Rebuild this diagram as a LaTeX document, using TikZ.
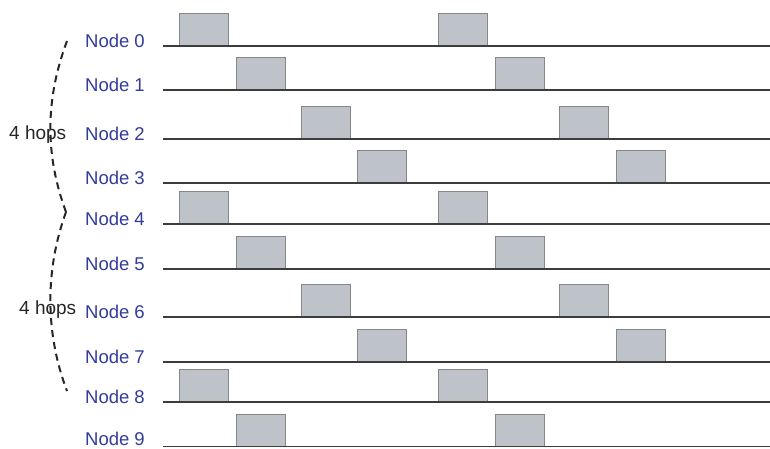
\documentclass[tikz,border=0pt]{standalone}
\usepackage{fontspec}
\setmainfont{Liberation Sans}
\definecolor{lbl}{RGB}{50,60,155}
\definecolor{slotfill}{RGB}{190,195,201}
\definecolor{slotdraw}{RGB}{135,135,135}
\definecolor{axis}{RGB}{60,60,60}
\begin{document}
\begin{tikzpicture}[x=1pt,y=-1pt,
  nodelbl/.style={text=lbl,font=\fontsize{18.5}{21}\selectfont,inner sep=0pt,anchor=base east},
  hopslbl/.style={text=black!85,font=\fontsize{19}{21}\selectfont,inner sep=0pt,anchor=base west},
  timeline/.style={draw=axis,line width=1.3pt},
  slot/.style={draw=slotdraw,fill=slotfill,line width=0.9pt,minimum width=49pt,minimum height=32pt,inner sep=0pt,anchor=south west},
  hopbrace/.style={draw=black!85,line width=2pt,dash pattern=on 7pt off 5pt}]
\useasboundingbox (0,0) rectangle (770,448);
% timelines and labels
\foreach \i/\y/\t/\a/\b in {0/46/47.5/179/438,1/90/91.5/236/495,2/139/140.5/301/559,3/183/184.5/357/616,4/224/225.5/179/438,5/269/270.5/236/495,6/317/318.5/301/559,7/362/363.5/357/616,8/402/403.5/179/438,9/446.5/445/236/495}{
  \coordinate (s\i) at (163,\y);
  \coordinate (e\i) at (770,\y);
  \node[slot] (a\i) at (\a,\y) {};
  \node[slot] (b\i) at (\b,\y) {};
  \draw[timeline] (s\i) -- (e\i);
  \node[nodelbl] (n\i) at (145,\t) {Node \i};
}
% braces
\coordinate (h0) at (67,41);
\coordinate (h1) at (66,212);
\coordinate (h2) at (67,391);
\draw[hopbrace] (h0) .. controls (45,100) and (45,155) .. (h1);
\draw[hopbrace] (h1) .. controls (45,270) and (45,333) .. (h2);
\node[hopslbl] (hop1) at (9,139) {4 hops};
\node[hopslbl] (hop2) at (19,314) {4 hops};
\end{tikzpicture}
\end{document}
